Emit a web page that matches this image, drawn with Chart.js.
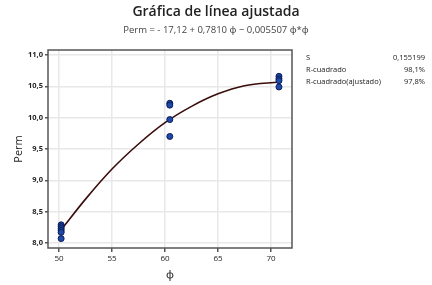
<!DOCTYPE html>
<html lang="es">
<head>
  <meta charset="UTF-8">
  <title>Gráfica de línea ajustada</title>
  <style>
    html, body { margin: 0; padding: 0; background: #fff; }
    #wrap { width: 432px; height: 285px; position: relative; }
  </style>
</head>
<body>
  <div id="wrap">
    <canvas id="grafico"></canvas>
  </div>

  <script src="https://cdn.jsdelivr.net/npm/chart.js"></script>

  <script>
    // Datos observados (phi, Perm)
    const phiObs = [50.2, 50.2, 50.2, 50.2, 50.2, 50.2, 60.45, 60.45, 60.45, 60.45, 70.75, 70.75, 70.75, 70.75];
    const permObs = [8.29, 8.26, 8.23, 8.20, 8.17, 8.07, 10.23, 10.20, 9.97, 9.70, 10.66, 10.62, 10.59, 10.49];

    // Línea ajustada
    const phiFit = [50.2, 52.5, 55, 57.5, 60, 62.5, 65, 67.5, 70.75];
    const permFit = [8.21, 8.70, 9.18, 9.58, 9.92, 10.18, 10.38, 10.51, 10.57];

    const xTicks = [50, 55, 60, 65, 70];
    const yTicks = [8.0, 8.5, 9.0, 9.5, 10.0, 10.5, 11.0];

    const titulo = "Gráfica de línea ajustada";
    const ecuacion = "Perm = - 17,12 + 0,7810 ϕ − 0,005507 ϕ*ϕ";
    const statsNombres = ["S", "R-cuadrado", "R-cuadrado(ajustado)"];
    const statsValores = ["0,155199", "98,1%", "97,8%"];

    const FONT = "'Open Sans', 'Noto Sans', sans-serif";

    const textos = {
      id: 'textos',
      afterDraw(chart) {
        const ctx = chart.ctx;
        const area = chart.chartArea;
        ctx.save();
        // marco del área
        ctx.strokeStyle = '#555';
        ctx.lineWidth = 1.5;
        ctx.strokeRect(area.left, area.top, area.right - area.left, area.bottom - area.top);

        ctx.fillStyle = '#222';
        ctx.textAlign = 'center';
        ctx.textBaseline = 'middle';
        ctx.font = `600 14px ${FONT}`;
        ctx.fillText(titulo, 216, 12);
        ctx.fillStyle = '#444';
        ctx.font = `9.5px ${FONT}`;
        ctx.fillText(ecuacion, 216, 30);

        ctx.fillStyle = '#222';
        ctx.font = `7.5px ${FONT}`;
        statsNombres.forEach((n, i) => {
          const y = 58 + i * 12;
          ctx.textAlign = 'left';
          ctx.fillText(n, 306, y);
          ctx.textAlign = 'right';
          ctx.fillText(statsValores[i], 425, y);
        });
        ctx.restore();
      }
    };

    const lienzo = document.querySelector("#grafico");
    const grafico = new Chart(lienzo, {
      type: 'scatter',
      data: {
        datasets: [
          {
            type: 'line',
            label: 'Ajuste',
            data: phiFit.map((x, i) => ({ x: x, y: permFit[i] })),
            borderColor: '#3a0c0c',
            borderWidth: 1.6,
            pointRadius: 0,
            cubicInterpolationMode: 'monotone',
            fill: false,
            order: 2
          },
          {
            label: 'Perm',
            data: phiObs.map((x, i) => ({ x: x, y: permObs[i] })),
            backgroundColor: '#1d4aa6',
            borderColor: '#0b1b5c',
            borderWidth: 1,
            pointRadius: 3,
            order: 1
          }
        ]
      },
      options: {
        responsive: true,
        maintainAspectRatio: false,
        animation: false,
        layout: { padding: { left: 0, right: 140, top: 50, bottom: 0 } },
        plugins: {
          legend: { display: false },
          tooltip: { enabled: false }
        },
        scales: {
          x: {
            type: 'linear',
            min: 48.96,
            max: 71.98,
            afterBuildTicks: s => { s.ticks = xTicks.map(v => ({ value: v })); },
            afterFit: s => { s.height = 37; },
            grid: { color: '#e8e8e8', lineWidth: 1.5, tickLength: 4, tickColor: '#555' },
            border: { display: false },
            ticks: { color: '#222', font: { family: FONT, size: 8 }, padding: 2 },
            title: { display: true, text: 'ϕ', color: '#222', font: { family: FONT, size: 11 }, padding: { top: 2 } }
          },
          y: {
            min: 7.92,
            max: 11.08,
            afterBuildTicks: s => { s.ticks = yTicks.map(v => ({ value: v })); },
            afterFit: s => { s.width = 48; },
            grid: { color: '#e8e8e8', lineWidth: 1.5, tickLength: 3, tickColor: '#555' },
            border: { display: false },
            ticks: {
              color: '#222',
              font: { family: FONT, size: 7.5, weight: 'bold' },
              padding: 2,
              callback: v => v.toFixed(1).replace('.', ',')
            },
            title: { display: true, text: 'Perm', color: '#222', font: { family: FONT, size: 11 }, padding: { top: 12, bottom: 4 } }
          }
        }
      },
      plugins: [textos]
    });
  </script>
</body>
</html>
